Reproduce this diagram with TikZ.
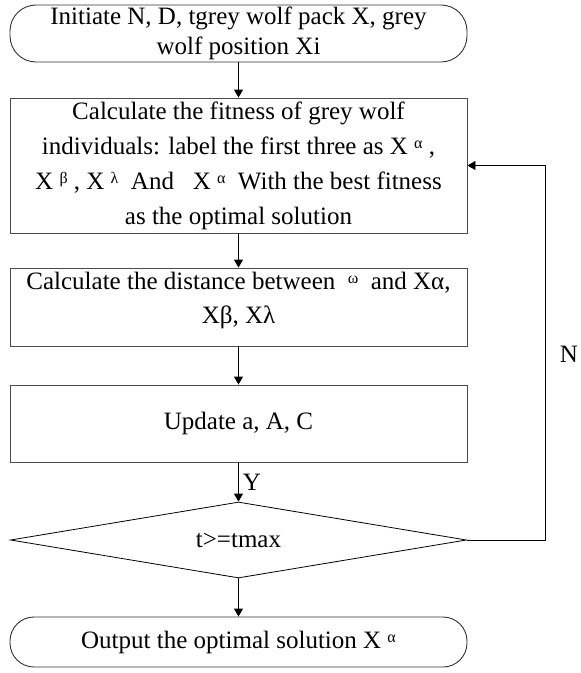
\documentclass[tikz,border=0pt]{standalone}
\usepackage{fontspec}
\setmainfont{Liberation Serif}
\usetikzlibrary{shapes.geometric,arrows.meta}
% small raised Greek letter used after X
\newcommand{\gsup}[1]{\raisebox{0.45ex}{\fontsize{16}{16}\selectfont #1}}
\begin{document}
\begin{tikzpicture}[x=1pt,y=-1pt,
  every node/.style={font=\fontsize{25}{28}\selectfont, inner sep=0pt, align=center},
  procbox/.style={draw=black!70, line width=0.9pt, minimum width=457pt},
  termbox/.style={draw=black!80, line width=0.9pt, rounded corners=26pt, minimum width=457pt},
  decbox/.style={draw=black, line width=0.8pt, diamond, aspect=6, minimum width=456pt, minimum height=76pt},
  flow/.style={draw=black, line width=0.9pt, -{Triangle[length=8pt,width=9pt]}},
  lbl/.style={font=\fontsize{25}{26}\selectfont}]
\useasboundingbox (0,0) rectangle (581,673);

% start terminal
\node[termbox, minimum height=57pt, font=\fontsize{25}{30}\selectfont] (init) at (238.5,33.5)
  {Initiate N, D, tgrey wolf pack X, grey\\wolf position Xi};
% fitness evaluation
\node[procbox, minimum height=135pt, font=\fontsize{25}{35}\selectfont] (fit) at (238.5,165.5)
  {Calculate the fitness of grey wolf\\
   individuals: label the first three as X \gsup{α} ,\\
   X \gsup{β} , X \gsup{λ}\ \ And\ \ \ X \gsup{α}\ \ With the best fitness\\
   as the optimal solution};
% distance step (frame and text set separately so the text sits a little high)
\node[procbox, minimum height=78pt] (dist) at (238.5,307) {};
\node[font=\fontsize{25}{34}\selectfont] (distText) at (238.5,300)
  {Calculate the distance between\ \ \gsup{ω}\ \ and Xα,\\Xβ, Xλ};
% coefficient update
\node[procbox, minimum height=77pt] (upd) at (238.5,423.5) {Update a, A, C};
% stopping test
\node[decbox] (cond) at (238.5,540) {t>=tmax};
% end terminal
\node[termbox, minimum height=50pt, rounded corners=24pt] (out) at (238.5,642)
  {Output the optimal solution X \gsup{α}};

% corners of the return loop
\coordinate (loopB) at (545,540);
\coordinate (loopT) at (545,165.5);

\draw[flow] (init) -- (fit);
\draw[flow] (fit) -- (dist);
\draw[flow] (dist) -- (upd);
\draw[flow] (upd) -- node[lbl, right, xshift=4pt] (ylab) {Y} (cond);
\draw[flow] (cond) -- (out);
\draw[flow] (cond.east) -- (loopB) -- (loopT) -- (fit.east);

\node[lbl] (nlab) at (569,354) {N};
\end{tikzpicture}
\end{document}
